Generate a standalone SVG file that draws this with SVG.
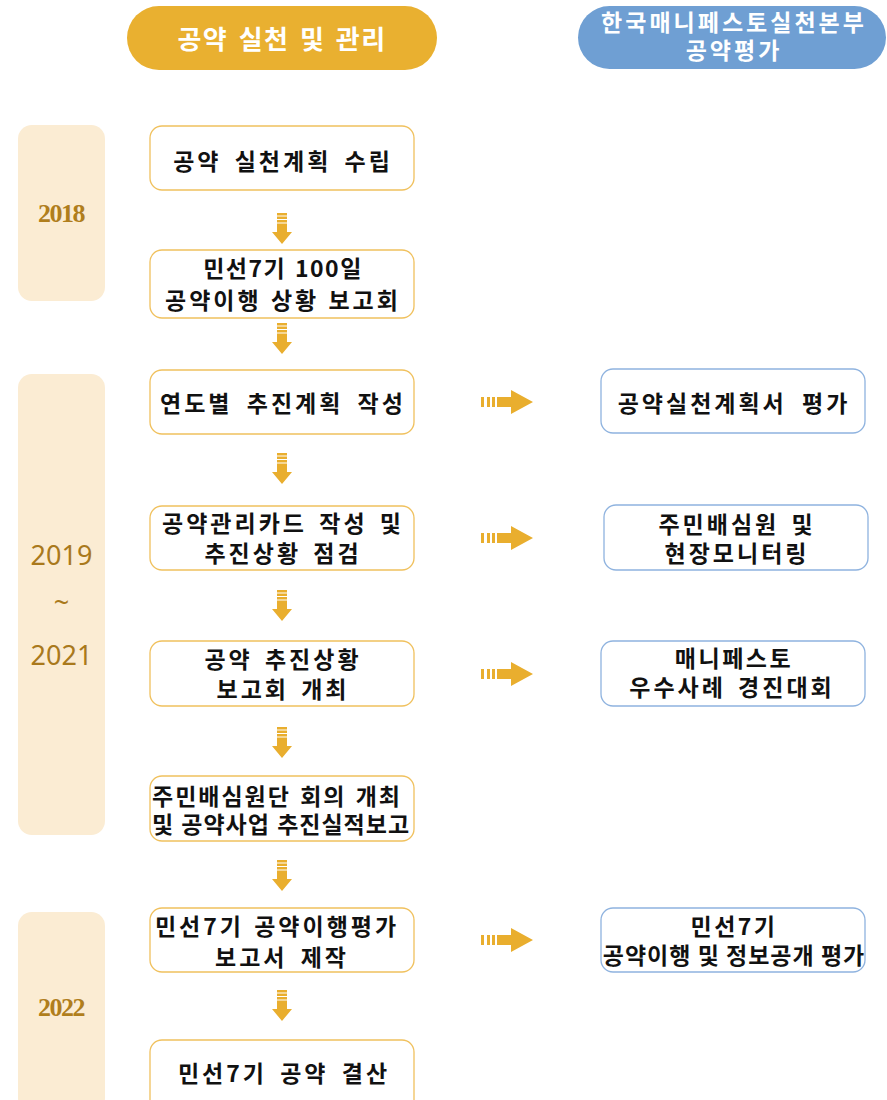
<svg xmlns="http://www.w3.org/2000/svg" width="887" height="1100" viewBox="0 0 887 1100">
<defs>
<style>
.hdr{font-family:"Noto Sans CJK KR","Noto Sans",sans-serif;fill:#fff;text-anchor:middle;font-weight:bold}
.yr{fill:#FBECD3}
.yser{font-family:"Liberation Serif",serif;font-size:26px;fill:#B07E1C;text-anchor:middle;letter-spacing:-1.5px;font-weight:bold}
.ysan{font-family:"Noto Sans","Open Sans",sans-serif;font-size:27px;fill:#A9791C;text-anchor:middle}
.lb{fill:#fff;stroke:#F0C15E;stroke-width:1.3}
.rb{fill:#fff;stroke:#8FB3DF;stroke-width:1.3}
.t{font-family:"Noto Sans CJK KR","Noto Sans",sans-serif;font-size:23px;fill:#111;text-anchor:middle;font-weight:bold}
.ar{fill:#E9AE2E}
</style>
<g id="dnArrow">
<rect x="-5" y="0" width="10" height="2.5" class="ar"/>
<rect x="-5" y="3.5" width="10" height="2.5" class="ar"/>
<rect x="-5" y="7" width="10" height="2.5" class="ar"/>
<polygon points="-5,10.5 5,10.5 5,19 10,19 0,31 -10,19 -5,19" class="ar"/>
</g>
<g id="rtArrow">
<rect x="0" y="-5" width="3" height="10" class="ar"/>
<rect x="6" y="-5" width="3" height="10" class="ar"/>
<rect x="11" y="-5" width="3" height="10" class="ar"/>
<polygon points="16,-5 30,-5 30,-12 52,0 30,12 30,5 16,5" class="ar"/>
</g>
</defs>
<rect width="887" height="1100" fill="#fff"/>

<g id="header-left">
<rect x="127" y="6" width="310" height="64" rx="32" fill="#E9B030"/>
<text class="hdr" x="282" y="49" font-size="26" word-spacing="3" letter-spacing="1.5">공약 실천 및 관리</text>
</g>
<g id="header-right">
<rect x="578" y="6" width="308" height="63" rx="31.5" fill="#6F9FD3"/>
<text class="hdr" x="734" y="31" font-size="23" letter-spacing="3">한국매니페스토실천본부</text>
<text class="hdr" x="734" y="59" font-size="23" letter-spacing="3">공약평가</text>
</g>

<g id="year-2018">
<rect class="yr" x="18" y="125" width="87" height="176" rx="14"/>
<text class="yser" x="61" y="222">2018</text>
</g>
<g id="year-2019-2021">
<rect class="yr" x="18" y="374" width="87" height="461" rx="14"/>
<text class="ysan" x="61.5" y="565">2019</text>
<text class="ysan" x="61.5" y="612">~</text>
<text class="ysan" x="61.5" y="665">2021</text>
</g>
<g id="year-2022">
<rect class="yr" x="18" y="912" width="87" height="200" rx="14"/>
<text class="yser" x="61" y="1016">2022</text>
</g>

<g id="n1"><rect class="lb" x="150" y="126" width="264" height="64" rx="12"/>
<text class="t" x="283" y="169.5" style="letter-spacing:3px;word-spacing:5px">공약 실천계획 수립</text></g>
<g id="n2"><rect class="lb" x="150" y="250" width="264" height="68" rx="12"/>
<text class="t" x="283" y="277" style="letter-spacing:1.5px;word-spacing:2px">민선7기 100일</text>
<text class="t" x="283" y="308.5" style="letter-spacing:3px;word-spacing:1px">공약이행 상황 보고회</text></g>
<g id="n3"><rect class="lb" x="150" y="370" width="264" height="64" rx="12"/>
<text class="t" x="283" y="411.5" style="letter-spacing:3px;word-spacing:6px">연도별 추진계획 작성</text></g>
<g id="n4"><rect class="lb" x="150" y="506" width="264" height="64" rx="12"/>
<text class="t" x="283" y="531.5" style="letter-spacing:3px;word-spacing:4px">공약관리카드 작성 및</text>
<text class="t" x="283" y="561.5" style="letter-spacing:3px;word-spacing:4px">추진상황 점검</text></g>
<g id="n5"><rect class="lb" x="150" y="641" width="264" height="65" rx="12"/>
<text class="t" x="283" y="667.5" style="letter-spacing:3px;word-spacing:4px">공약 추진상황</text>
<text class="t" x="283" y="697.5" style="letter-spacing:3px;word-spacing:4px">보고회 개최</text></g>
<g id="n6"><rect class="lb" x="150" y="776" width="264" height="65" rx="12"/>
<text class="t" x="277" y="804.5" style="letter-spacing:2px;word-spacing:2px">주민배심원단 회의 개최</text>
<text class="t" x="281" y="832.5" style="letter-spacing:1px;word-spacing:1px">및 공약사업 추진실적보고</text></g>
<g id="n7"><rect class="lb" x="150" y="908" width="264" height="64" rx="12"/>
<text class="t" x="277" y="934.5" style="letter-spacing:3px;word-spacing:2px">민선7기 공약이행평가</text>
<text class="t" x="282" y="965.5" style="letter-spacing:3px;word-spacing:5px">보고서 제작</text></g>
<g id="n8"><rect class="lb" x="150" y="1040" width="264" height="80" rx="12"/>
<text class="t" x="284" y="1081.5" style="letter-spacing:3px;word-spacing:5px">민선7기 공약 결산</text></g>

<g id="r1"><rect class="rb" x="601" y="369" width="264" height="64" rx="12"/>
<text class="t" x="734" y="411.5" style="letter-spacing:3px;word-spacing:7px">공약실천계획서 평가</text></g>
<g id="r2"><rect class="rb" x="604" y="505" width="264" height="65" rx="12"/>
<text class="t" x="737" y="532.5" style="letter-spacing:3px;word-spacing:4px">주민배심원 및</text>
<text class="t" x="737" y="561.5" style="letter-spacing:3px">현장모니터링</text></g>
<g id="r3"><rect class="rb" x="601" y="641" width="264" height="65" rx="12"/>
<text class="t" x="734" y="666.5" style="letter-spacing:2.5px">매니페스토</text>
<text class="t" x="732" y="695.5" style="letter-spacing:3px;word-spacing:4px">우수사례 경진대회</text></g>
<g id="r4"><rect class="rb" x="601" y="908" width="264" height="64" rx="12"/>
<text class="t" x="734" y="934.5" style="letter-spacing:2.5px">민선7기</text>
<text class="t" x="734" y="963.5" style="letter-spacing:1px">공약이행 및 정보공개 평가</text></g>

<g id="connectors">
<use href="#dnArrow" x="282" y="213"/>
<use href="#dnArrow" x="282" y="323"/>
<use href="#dnArrow" x="282" y="453"/>
<use href="#dnArrow" x="282" y="590"/>
<use href="#dnArrow" x="282" y="727"/>
<use href="#dnArrow" x="282" y="860"/>
<use href="#dnArrow" x="282" y="990"/>
<use href="#rtArrow" x="481" y="402"/>
<use href="#rtArrow" x="481" y="538"/>
<use href="#rtArrow" x="481" y="674"/>
<use href="#rtArrow" x="481" y="940"/>
</g>
</svg>
